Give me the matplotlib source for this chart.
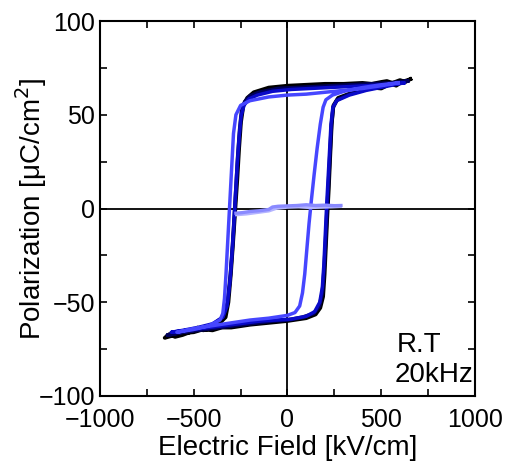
import matplotlib.pyplot as plt

plt.rcParams['font.family'] = ['Liberation Sans', 'DejaVu Sans']

# P-E loops, each traced from +Emax down the upper branch and back along the lower branch
E_black = [655, 630, 600, 560, 530, 500, 450, 400, 300, 200, 100, 0, -100, -180, -215, -235, -248, -258, -268, -278,
           -290, -302, -315, -330, -360, -380, -410, -450, -480, -520, -560, -600, -630, -655,
           -600, -560, -500, -450, -400, -350, -300, -200, -100, 0, 100, 150, 175, 190, 198, 205, 212, 220, 228,
           236, 245, 270, 350, 400, 450, 500, 550, 580, 610, 655]
P_black = [69, 67.5, 68.5, 67, 68, 67.5, 66.5, 67, 66.5, 66.5, 66, 65.5, 64.5, 62, 59, 55, 46, 32, 15, 0,
           -18, -35, -50, -58, -61, -62.5, -64, -65, -63.5, -66, -67.5, -68.5, -67, -69,
           -67.5, -66.5, -66, -64.5, -65, -63.5, -63.5, -62, -61, -60, -58.5, -56.5, -53, -47, -35, -20, -5, 10,
           28, 45, 55, 59, 62, 63, 64.5, 64, 66.5, 65.5, 67.5, 69]

E_navy = [640, 550, 450, 350, 250, 150, 50, -50, -150, -200, -228, -245, -255, -265, -274, -283, -293, -305, -320,
          -345, -400, -480, -560, -640,
          -560, -480, -400, -320, -240, -160, -80, 0, 80, 140, 170, 186, 195, 203, 210, 218, 226, 234, 244, 265,
          330, 420, 520, 640]
P_navy = [68, 67, 66.5, 66, 65.5, 65, 64.5, 64, 62, 60, 57, 52, 42, 28, 12, -3, -20, -36, -50,
          -58, -62, -64.5, -66, -67.5,
          -66, -65, -64, -63, -62, -61, -60, -59.5, -58, -56, -52, -45, -33, -18, -3, 12, 28, 44, 54, 58,
          61, 63.5, 65.5, 68]

E_blue = [620, 520, 420, 320, 220, 120, 20, -80, -160, -205, -232, -248, -258, -268, -277, -286, -296, -308, -322,
          -345, -400, -480, -560, -620,
          -540, -460, -380, -300, -220, -140, -60, 20, 100, 145, 172, 186, 194, 201, 208, 216, 224, 232, 242, 262,
          330, 420, 520, 620]
P_blue = [67, 66, 65.5, 65, 64.5, 64, 63.5, 62.5, 60.5, 58.5, 55, 49, 38, 24, 8, -8, -24, -40, -52,
          -58, -61.5, -63.5, -65, -66,
          -65, -64, -63, -62, -61, -60, -59.5, -59, -57.5, -55, -50, -42, -30, -15, 0, 15, 30, 45, 54, 57.5,
          60.5, 63, 65, 67]

E_light = [590, 500, 400, 300, 200, 100, 0, -100, -200, -250, -275, -288, -296, -304, -312, -320, -328, -336, -345,
           -360, -420, -500, -590,
           -500, -400, -300, -200, -100, 0, 40, 65, 80, 92, 103, 115, 128, 142, 158, 175, 190, 205, 240,
           300, 400, 500, 590]
P_light = [67, 65.5, 64, 63, 62, 61, 60.5, 59.5, 57.5, 55, 50, 40, 25, 10, -5, -20, -35, -48, -56,
           -59.5, -62.5, -64.5, -66,
           -64, -62.5, -61, -59.5, -58.5, -57, -55.5, -52, -45, -35, -22, -8, 5, 18, 32, 45, 54, 58, 60.5,
           62.5, 64.5, 66, 67]

# first (unpoled) sweep, stays near zero
E_virgin = [-275, -240, -200, -150, -100, -80, -50, 0, 50, 100, 150, 200, 250, 285]
P_virgin = [-2.5, -2.2, -1.6, -1.2, -0.5, 0.8, 1.2, 1.4, 1.6, 2.0, 1.6, 1.8, 1.5, 1.6]
E_virgin2 = [-270, -220, -160, -100, -60, 0, 60, 120, 180, 240, 280]
P_virgin2 = [-3.2, -2.8, -2.0, -1.2, 0.2, 0.8, 1.0, 0.6, 0.8, 1.0, 1.2]

fig = plt.figure(figsize=(5.12, 4.62), dpi=100)
ax = fig.add_axes([0.1953, 0.1429, 0.7324, 0.8116])

ax.axhline(0, color='black', lw=1.3, zorder=1)
ax.axvline(0, color='black', lw=1.3, zorder=1)

ax.plot(E_black, P_black, color='#000000', lw=2.7, zorder=2)
ax.plot(E_navy, P_navy, color='#00005a', lw=2.7, zorder=3)
ax.plot(E_blue, P_blue, color='#0a0ac8', lw=2.5, zorder=4)
ax.plot(E_light, P_light, color='#4646ff', lw=2.5, zorder=5)
ax.plot(E_virgin2, P_virgin2, color='#b4b4ff', lw=2.6, zorder=6)
ax.plot(E_virgin, P_virgin, color='#8a8aff', lw=2.4, zorder=7)

ax.set_xlim(-1000, 1000)
ax.set_ylim(-100, 100)
ax.set_xticks([-1000, -500, 0, 500, 1000])
ax.set_yticks([-100, -50, 0, 50, 100])
ax.set_xticks([-750, -250, 250, 750], minor=True)
ax.set_yticks([-75, -25, 25, 75], minor=True)
ax.tick_params(which='both', direction='in', top=True, right=True, width=1.2, length=5, labelsize=18)
ax.tick_params(axis='x', which='major', pad=9)
for s in ax.spines.values():
    s.set_linewidth(1.5)

ax.set_xlabel('Electric Field [kV/cm]', fontsize=20)
ax.set_ylabel('Polarization [\u03bcC/cm$^2$]', fontsize=20)
ax.xaxis.set_label_coords(0.5, -0.105)
ax.yaxis.set_label_coords(-0.135, 0.5)

ax.text(0.792, 0.137, 'R.T', transform=ax.transAxes, ha='left', va='center', fontsize=20)
ax.text(0.785, 0.056, '20kHz', transform=ax.transAxes, ha='left', va='center', fontsize=20)

plt.savefig('out.png', dpi=100)
plt.close()
